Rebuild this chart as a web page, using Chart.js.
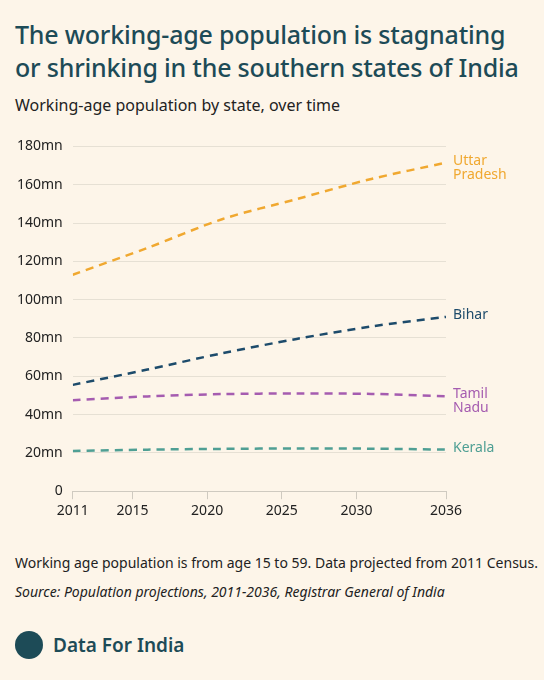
<!DOCTYPE html>
<html lang="en">
<head>
<meta charset="UTF-8">
<title>Working-age population</title>
<script src="https://cdn.jsdelivr.net/npm/chart.js"></script>
<style>
  body { margin: 0; background: #fdf5e9; font-family: "Noto Sans", sans-serif; color: #2a2a2a; }
  .wrap { width: 544px; height: 680px; position: relative; }
  h1 { margin: 0; position: absolute; left: 15px; top: 18px; font-size: 25px; line-height: 33px; font-weight: 500; color: #1d4b57; letter-spacing: -0.2px; }
  .sub { position: absolute; left: 15px; top: 94px; font-size: 16px; color: #222; }
  .chart { position: absolute; left: 0; top: 128px; width: 544px; height: 400px; }
  .note { position: absolute; left: 15px; top: 553px; font-size: 14px; color: #222; }
  .src { position: absolute; left: 15px; top: 582px; font-size: 14px; font-style: italic; color: #222; }
  .logo { position: absolute; left: 15px; top: 631px; display: flex; align-items: center; font-size: 19px; font-weight: 600; color: #1d4b57; }
  .logo span.dot { width: 28px; height: 28px; border-radius: 50%; background: #1d4b57; margin-right: 10px; display: inline-block; }
</style>
</head>
<body>
<div class="wrap">
  <h1>The working-age population is stagnating<br>or shrinking in the southern states of India</h1>
  <div class="sub">Working-age population by state, over time</div>
  <div class="chart"><canvas id="grafico"></canvas></div>
  <div class="note">Working age population is from age 15 to 59. Data projected from 2011 Census.</div>
  <div class="src">Source: Population projections, 2011-2036, Registrar General of India</div>
  <div class="logo"><span class="dot"></span>Data For India</div>
</div>
<script>
  // Datos
  const years = [2011, 2016, 2021, 2026, 2031, 2036];
  const xTicks = [2011, 2015, 2020, 2025, 2030, 2036];
  const uttarPradesh = [113, 127, 142, 152.5, 163, 171.5];
  const bihar = [55.5, 63.5, 72, 79.5, 86, 91];
  const tamilNadu = [47.5, 49.5, 50.7, 51, 50.8, 49.5];
  const kerala = [21, 21.7, 22.1, 22.3, 22.2, 21.7];

  const series = [
    { name: ['Uttar', 'Pradesh'], data: uttarPradesh, color: '#f0a830' },
    { name: ['Bihar'], data: bihar, color: '#1d4b6b' },
    { name: ['Tamil', 'Nadu'], data: tamilNadu, color: '#a55cb0' },
    { name: ['Kerala'], data: kerala, color: '#4f9f94' }
  ];

  // Etiquetas al final de cada línea
  const endLabels = {
    id: 'endLabels',
    afterDatasetsDraw(chart) {
      const ctx = chart.ctx;
      ctx.save();
      ctx.font = '14px "Noto Sans"';
      ctx.textBaseline = 'middle';
      chart.data.datasets.forEach((ds, i) => {
        const pt = chart.getDatasetMeta(i).data[ds.data.length - 1];
        ctx.fillStyle = ds.borderColor;
        ds.labelLines.forEach((t, j) => ctx.fillText(t, pt.x + 7, pt.y - 2 + j * 14));
      });
      ctx.restore();
    }
  };

  new Chart(document.getElementById('grafico').getContext('2d'), {
    type: 'line',
    data: {
      datasets: series.map(s => ({
        data: years.map((y, i) => ({ x: y, y: s.data[i] })),
        labelLines: s.name,
        borderColor: s.color,
        borderWidth: 2.5,
        borderDash: [8, 6],
        pointRadius: 0,
        tension: 0.3
      }))
    },
    options: {
      responsive: true,
      maintainAspectRatio: false,
      animation: false,
      layout: { padding: { left: 7, right: 98, top: 15, bottom: 6 } },
      plugins: { legend: { display: false }, tooltip: { enabled: false } },
      scales: {
        x: {
          type: 'linear', min: 2011, max: 2036,
          afterBuildTicks: axis => { axis.ticks = xTicks.map(v => ({ value: v })); },
          grid: { display: true, drawOnChartArea: false, drawTicks: true, tickLength: 8, color: '#cfcac0' },
          border: { color: '#cfcac0' },
          ticks: { color: '#222', font: { family: 'Noto Sans', size: 14 }, callback: v => String(v) }
        },
        y: {
          min: 0, max: 180,
          ticks: { stepSize: 20, padding: 10, color: '#222', font: { family: 'Noto Sans', size: 14 }, callback: v => v === 0 ? '0' : v + 'mn' },
          grid: { color: '#e6e0d4', drawTicks: false },
          border: { display: false }
        }
      }
    },
    plugins: [endLabels]
  });
</script>
</body>
</html>
